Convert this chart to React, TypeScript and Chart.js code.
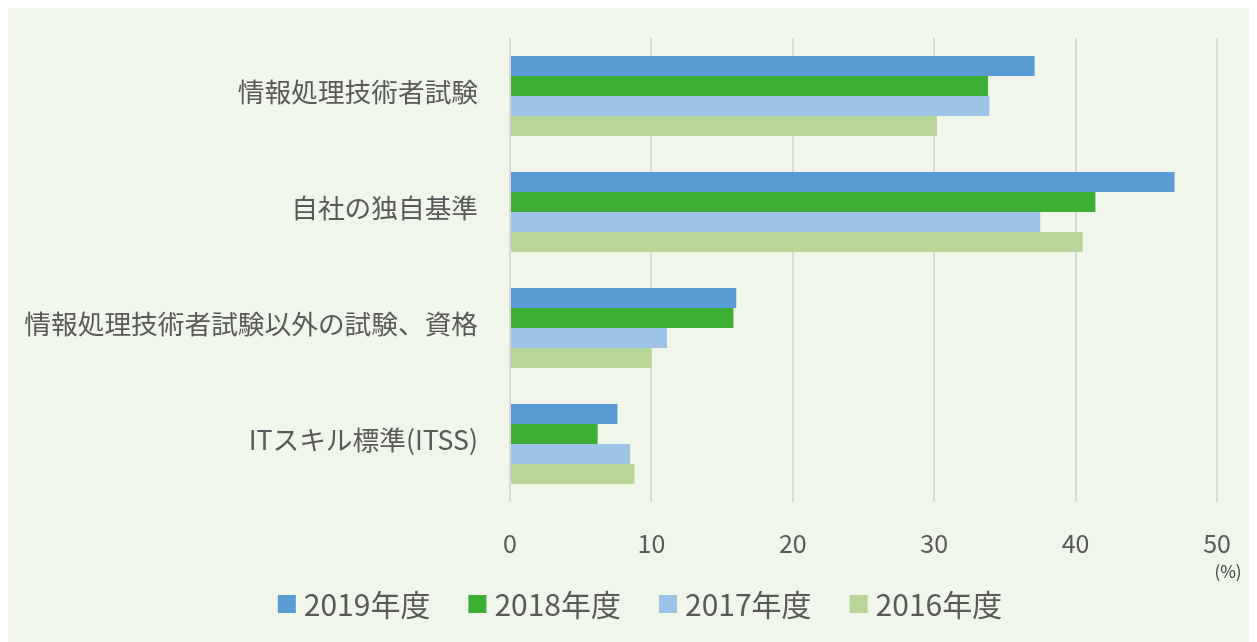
import React, { useEffect, useRef } from "react";
import { Chart, registerables } from "chart.js";

Chart.register(...registerables);

const categories = [
  "情報処理技術者試験",
  "自社の独自基準",
  "情報処理技術者試験以外の試験、資格",
  "ITスキル標準(ITSS)",
];
const seriesNames = ["2019年度", "2018年度", "2017年度", "2016年度"];
const values2019 = [37.1, 47.0, 16.0, 7.6];
const values2018 = [33.8, 41.4, 15.8, 6.2];
const values2017 = [33.9, 37.5, 11.1, 8.5];
const values2016 = [30.2, 40.5, 10.0, 8.8];
const colors = ["#5B9BD5", "#3DAF35", "#9DC3E6", "#B8D698"];
const xTicks = [0, 10, 20, 30, 40, 50];
const unitLabel = "(%)";

const FONT = "'Noto Sans CJK JP', 'Noto Sans', sans-serif";
const TEXT = "#595959";

export default function App() {
  const ref = useRef<HTMLCanvasElement | null>(null);
  useEffect(() => {
    if (!ref.current) return;
    const seriesValues = [values2019, values2018, values2017, values2016];
    const unitPlugin = {
      id: "unitLabel",
      afterDraw(chart: any) {
        const ctx = chart.ctx;
        const xs = chart.scales.x;
        ctx.save();
        ctx.fillStyle = "#404040";
        ctx.font = `17px ${FONT}`;
        ctx.textAlign = "center";
        ctx.textBaseline = "middle";
        ctx.fillText(unitLabel, xs.getPixelForValue(50) + 11, chart.chartArea.bottom + 70);
        ctx.restore();
      },
    };
    const legendPlugin = {
      id: "customLegend",
      afterDraw(chart: any) {
        const ctx = chart.ctx;
        ctx.save();
        ctx.font = `30px ${FONT}`;
        ctx.textBaseline = "middle";
        ctx.textAlign = "left";
        const box = 18;
        const gapText = 8;
        const gapItem = 38;
        const widths = chart.data.datasets.map((d: any) => ctx.measureText(d.label).width);
        const total =
          widths.reduce((a: number, w: number) => a + box + gapText + w, 0) +
          gapItem * (widths.length - 1);
        let x = 632 - total / 2;
        const y = 596;
        chart.data.datasets.forEach((d: any, i: number) => {
          ctx.fillStyle = d.backgroundColor;
          ctx.fillRect(x, y - box / 2, box, box);
          ctx.fillStyle = TEXT;
          ctx.fillText(d.label, x + box + gapText, y + 1);
          x += box + gapText + widths[i] + gapItem;
        });
        ctx.restore();
      },
    };
    const chart = new Chart(ref.current, {
      type: "bar",
      data: {
        labels: categories,
        datasets: seriesNames.map((name, i) => ({
          label: name,
          data: seriesValues[i],
          backgroundColor: colors[i],
          borderWidth: 0,
          barPercentage: 1,
          categoryPercentage: 0.69,
        })),
      },
      options: {
        indexAxis: "y",
        animation: false,
        responsive: false,
        maintainAspectRatio: false,
        layout: { padding: { left: 0, right: 40, top: 30, bottom: 61 } },
        scales: {
          x: {
            min: 0,
            max: 50,
            afterBuildTicks: (scale: any) => {
              scale.ticks = xTicks.map((v) => ({ value: v }));
            },
            afterFit: (scale: any) => {
              scale.height = 79;
            },
            grid: { color: "#D9D9D9", lineWidth: 2, drawTicks: false },
            border: { display: false },
            ticks: {
              color: TEXT,
              font: { family: FONT, size: 25 },
              padding: 26,
              maxRotation: 0,
            },
          },
          y: {
            afterFit: (scale: any) => {
              scale.width = 502;
              scale.paddingTop = 0;
              scale.paddingBottom = 0;
            },
            grid: { display: false, drawTicks: false },
            border: { display: false },
            ticks: {
              color: TEXT,
              font: { family: FONT, size: 26.7 },
              padding: 32,
              labelOffset: -4,
            },
          },
        },
        plugins: {
          legend: { display: false },
          tooltip: { enabled: false },
        },
      },
      plugins: [unitPlugin, legendPlugin],
    } as any);
    return () => chart.destroy();
  }, []);
  return (
    <div style={{ width: 1249, height: 634, background: "#F0F6E9" }}>
      <canvas ref={ref} width={1249} height={634} style={{ display: "block" }} />
    </div>
  );
}
